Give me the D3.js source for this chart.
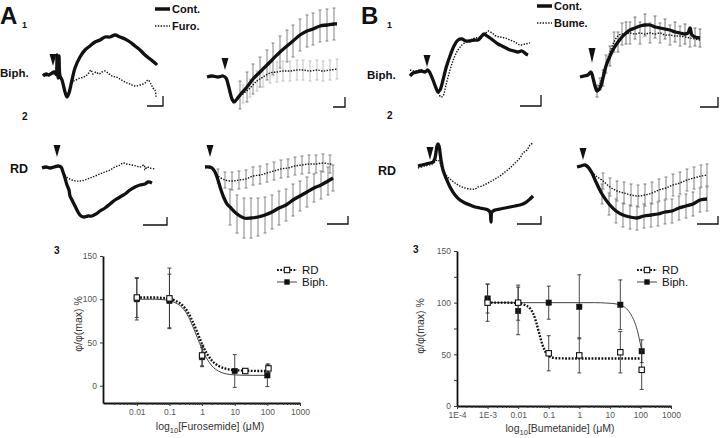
<!DOCTYPE html>
<html>
<head>
<meta charset="utf-8">
<script src="https://cdn.jsdelivr.net/npm/d3@7"></script>
<style>
body { margin: 0; background: #fff; }
svg { font-family: "Liberation Sans", Arial, sans-serif; }
</style>
</head>
<body>
<script>
// ---- traces: [time, amplitude, sem] (arbitrary units, baseline = 0) ----
var a1LeftCont = [[0,-1],[3,1],[6,0],[9,2],[11,3],[13,1],[14,20],[15,-3],[16,19],[17,-1],[19,-5],[22,-17],[24,-22],[26,-18],[29,-5],[32,7],[37,18],[42,25],[47,29],[52,33],[57,35],[62,38],[67,38],[72,40],[77,38],[82,36],[87,33],[92,29],[97,25],[102,20],[107,16],[112,12],[114,10]];
var a1LeftFuro = [[0,1],[4,-1],[8,2],[12,0],[18,-4],[22,-16],[24,-21],[27,-12],[29,-7],[33,-5],[37,-3],[41,-2],[45,1],[48,5],[50,1],[53,3],[56,1],[59,3],[62,4],[65,2],[69,-1],[73,-2],[77,-4],[82,-7],[87,-9],[92,-11],[97,-10],[102,-8],[105,-5],[108,-9],[110,-13],[112,-15],[113,-23]];
var a1RightCont = [[0,0],[5,1],[11,0],[16,1],[19,-1],[21,-7],[23,-15],[25,-22],[27,-25],[30,-22],[33,-18,14],[40,-10,15],[46,-2,15],[53,5,15],[60,12,15],[66,18,16],[73,25,16],[80,31,16],[86,36,16],[93,42,16],[100,46,16],[106,48,16],[113,51,16],[120,52,16],[127,53,16],[130,53]];
var a1RightFuro = [[27,-25],[30,-22],[36,-17,9],[43,-11,9],[50,-4,10],[56,0,10],[63,4,10],[70,5,10],[76,6,10],[83,6,10],[90,7,10],[96,7,10],[103,6,10],[110,7,10],[116,6,10],[123,7,10],[130,8,10]];

var b1LeftCont = [[0,-3],[3,0],[7,1],[11,2],[15,1],[18,3],[20,0],[23,-7],[26,-15],[28,-19],[30,-17],[33,-7],[36,5],[40,17],[44,27],[48,33],[52,34],[56,32],[60,32],[64,33],[68,33],[71,36],[74,39],[77,37],[80,35],[84,32],[88,29],[92,27],[96,25],[100,23],[104,22],[108,21],[112,22],[116,19],[118,18]];
var b1LeftBume = [[0,3],[5,2],[10,3],[15,2],[20,0],[24,-9],[28,-19],[31,-24],[33,-23],[36,-12],[40,3],[44,15],[48,23],[52,28],[56,31],[60,33],[65,35],[70,36],[75,39],[78,42],[82,40],[86,37],[90,36],[95,35],[100,33],[105,31],[110,28],[115,29],[120,30]];
var b1RightCont = [[0,-1],[4,0],[8,1],[11,4],[13,-2],[15,-10],[17,-15,6],[20,-12],[23,-2,8],[26,10],[30,20,10],[34,28],[38,34,10],[42,39],[46,43,11],[50,46],[55,48,11],[60,50],[65,51,11],[70,51],[75,49,11],[80,48],[85,47,10],[90,46],[95,44,10],[100,43],[105,42,10],[108,43],[110,48],[112,41],[115,39,9],[120,38,9]];
var b1RightBume = [[13,-4],[17,-12],[20,-8,6],[23,2],[26,12,9],[30,24],[34,34,10],[38,40],[42,42,11],[46,42],[50,43,11],[55,42],[60,43,11],[65,42],[70,43,10],[75,42],[80,43,10],[85,41],[90,41,10],[95,40],[100,40,10],[110,38,9],[120,36]];

var a2LeftCont = [[0,0],[4,1],[8,0],[12,1],[16,2],[19,1],[21,-4],[23,-10],[25,-17],[27,-22],[28,-28],[30,-32],[33,-38],[36,-44],[39,-48],[42,-49],[46,-48],[50,-48],[54,-46],[58,-43],[63,-40],[68,-36],[73,-32],[78,-29],[83,-26],[88,-22],[93,-19],[98,-17],[103,-16],[106,-14],[110,-15]];
var a2LeftFuro = [[20,-2],[23,-7],[26,-10],[30,-12],[34,-13],[38,-13],[43,-12],[48,-10],[53,-8],[58,-6],[63,-4],[68,-2],[73,1],[78,3],[81,5],[85,4],[90,3],[94,2],[98,1],[102,3],[103,-2],[105,1],[108,0],[113,-1]];
var a2RightCont = [[0,0],[4,0],[7,-1],[10,-5],[13,-13],[16,-23],[19,-31],[22,-37],[25,-40,18],[32,-47,19],[39,-51,20],[46,-51,20],[53,-50,19],[60,-48,18],[67,-45,17],[74,-41,17],[81,-38,16],[88,-33,16],[95,-29,15],[102,-25,15],[109,-21,14],[116,-18,14],[123,-14,14],[128,-11,13]];
var a2RightFuro = [[10,-5],[13,-9,7],[20,-13,8],[27,-14,9],[34,-13,9],[41,-12,9],[48,-9,9],[55,-8,9],[62,-6,9],[69,-4,9],[76,-2,9],[83,-1,9],[90,1,9],[97,2,9],[104,3,9],[111,3,9],[118,4,9],[125,3,9],[128,3]];

var b2LeftCont = [[0,-1],[4,0],[8,1],[12,2],[15,3],[17,7],[19,19],[20,21],[21,19],[23,5],[25,-5],[28,-13],[32,-22],[37,-30],[42,-35],[47,-38],[52,-40],[57,-42],[62,-43],[67,-44],[70,-45],[72,-47],[73,-57],[74,-47],[77,-45],[82,-44],[87,-43],[92,-42],[97,-41],[102,-40],[107,-38],[112,-34],[115,-31]];
var b2LeftBume = [[0,-3],[7,-1],[14,1],[20,5],[24,-3],[28,-10],[32,-14],[37,-18],[42,-21],[47,-23],[52,-24],[57,-24],[60,-22],[64,-21],[68,-19],[72,-17],[77,-14],[82,-11],[87,-7],[92,-3],[97,2],[102,7],[105,12],[109,15],[112,20],[115,22]];
var b2RightCont = [[0,0],[4,1],[8,2],[11,0],[15,-6],[19,-15],[25,-27,10],[32,-37,11],[39,-44,12],[46,-48,12],[53,-50,12],[60,-51,12],[67,-49,12],[74,-48,12],[81,-47,12],[88,-45,12],[95,-44,12],[102,-41,12],[109,-39,12],[116,-37,12],[123,-33,12],[130,-32,12]];
var b2RightBume = [[15,-5],[19,-9],[26,-14,8],[33,-20,9],[40,-24,10],[47,-26,11],[54,-28,11],[61,-29,11],[68,-28,11],[75,-26,11],[82,-23,11],[89,-21,11],[96,-18,11],[103,-16,11],[110,-13,11],[117,-11,11],[124,-9,11],[130,-8,11]];

// ---- dose-response (% of max) ----
var furoConc = [0.01, 0.1, 1, 10, 100];
var furoBiph = [100, 98, 33, 17, 12];
var furoBiphSem = [24, 31, 11, 19, 13];
var furoRDConc = [0.01, 0.1, 1, 21, 108];
var furoRD = [102, 101, 35, 17, 20];
var furoRDSem = [23, 35, 12, 2, 5];
var furoCurveLogX = [-2, -1.5, -1.2, -1, -0.8, -0.6, -0.45, -0.3, -0.15, 0, 0.15, 0.3, 0.5, 0.7, 1, 1.5, 2.03];
var furoCurveRD = [102, 102, 101.5, 100.5, 98, 93, 86, 75, 62, 48, 37, 29, 23, 20, 18, 17.2, 17];
var furoCurveBiph = [100, 100, 99.5, 98.5, 95.5, 90, 82, 70, 56, 42, 31, 23, 17, 14, 12.5, 12, 12];

var bumeConc = [0.001, 0.01, 0.1, 1, 22, 110];
var bumeBiph = [104, 92, 100, 96, 98, 53];
var bumeBiphSem = [14, 23, 16, 31, 24, 11];
var bumeRD = [100, 100, 51, 49, 52, 35];
var bumeRDSem = [18, 17, 17, 17, 20, 19];
var bumeCurveLogX = [-3, -2.4, -2, -1.8, -1.6, -1.5, -1.4, -1.3, -1.2, -1.1, -1, -0.9, -0.7, -0.3, 1, 2.04];
var bumeCurveRD = [100, 100, 99.5, 98, 94, 89, 80, 69, 59, 52, 48.5, 47, 46.2, 46, 46, 46];
var bumeCurveBiphLogX = [-3, 0, 0.5, 0.9, 1.2, 1.4, 1.55, 1.7, 1.8, 1.9, 1.97, 2.04];
var bumeCurveBiph = [100, 100, 100, 99.6, 98.8, 97, 94, 88, 82, 73, 64, 54];

var svg = d3.select("body").append("svg")
    .attr("width", 720)
    .attr("height", 438);

var ink = "#111";

// panel layout for the traces
var panels = [
    {x0: 43, base: 75, cont: a1LeftCont, drug: a1LeftFuro, stim: [10, 9, 12], bar: [120, -31, 16, 10]},
    {x0: 207, base: 77, cont: a1RightCont, drug: a1RightFuro, stim: [18, 7, 12], bar: [138, -30, 12, 10], errCont: "#777", errDrug: "#bbb"},
    {x0: 410, base: 73, cont: b1LeftCont, drug: b1LeftBume, stim: [17, 6, 12], bar: [131, -33, 21, 11]},
    {x0: 580, base: 76, cont: b1RightCont, drug: b1RightBume, stim: [12, 13, 15], bar: [138, -31, 18, 10], errCont: "#666", errDrug: "#777"},
    {x0: 42, base: 168, cont: a2LeftCont, drug: a2LeftFuro, stim: [15, 11, 12], bar: [125, -57, 24, 8]},
    {x0: 205, base: 167, cont: a2RightCont, drug: a2RightFuro, stim: [5, 10, 12], bar: [143, -57, 21, 8], errCont: "#777", errDrug: "#777"},
    {x0: 418, base: 165, cont: b2LeftCont, drug: b2LeftBume, stim: [12, 5, 13], bar: [123, -59, 24, 8]},
    {x0: 577, base: 167, cont: b2RightCont, drug: b2RightBume, stim: [6, 7, 12], bar: [141, -57, 21, 8], errCont: "#777", errDrug: "#777"}
];

function errBars(g, x, y, data, color) {
    var pts = data.filter(function(d) { return d[2] != null; });
    var eb = g.append("g").attr("stroke", color).attr("stroke-width", 0.9);
    pts.forEach(function(d) {
        var cx = x(d[0]);
        eb.append("line").attr("x1", cx).attr("x2", cx)
            .attr("y1", y(d[1] - d[2])).attr("y2", y(d[1] + d[2]));
        [d[1] - d[2], d[1] + d[2]].forEach(function(v) {
            eb.append("line").attr("x1", cx - 1.5).attr("x2", cx + 1.5)
                .attr("y1", y(v)).attr("y2", y(v));
        });
    });
}

panels.forEach(function(p) {
    var x = d3.scaleLinear().domain([0, 150]).range([p.x0, p.x0 + 150]);
    var y = d3.scaleLinear().domain([-70, 70]).range([p.base + 70, p.base - 70]);
    var g = svg.append("g");
    var line = d3.line()
        .x(function(d) { return x(d[0]); })
        .y(function(d) { return y(d[1]); })
        .curve(d3.curveCatmullRom.alpha(0.5));

    if (p.errDrug) errBars(g, x, y, p.drug, p.errDrug);
    if (p.errCont) errBars(g, x, y, p.cont, p.errCont);

    g.append("path").datum(p.drug).attr("d", line)
        .attr("fill", "none").attr("stroke", ink)
        .attr("stroke-width", 1.4).attr("stroke-dasharray", "1.4,1.4");
    g.append("path").datum(p.cont).attr("d", line)
        .attr("fill", "none").attr("stroke", ink)
        .attr("stroke-width", 3.3).attr("stroke-linejoin", "round");

    // stimulus arrowhead
    var sx = x(p.stim[0]), sy = y(p.stim[1]);
    g.append("path")
        .attr("d", "M" + (sx - 3.5) + "," + (sy - p.stim[2]) + "L" + (sx + 3.5) + "," + (sy - p.stim[2]) + "L" + sx + "," + sy + "Z")
        .attr("fill", ink);

    // scale bar
    var bx = x(p.bar[0]), by = y(p.bar[1]);
    g.append("path")
        .attr("d", "M" + (bx - p.bar[2]) + "," + by + "H" + bx + "V" + (by - p.bar[3]))
        .attr("fill", "none").attr("stroke", ink).attr("stroke-width", 1.3);
});

// panel text
function txt(x, y, s, size, weight, anchor) {
    return svg.append("text").attr("x", x).attr("y", y).text(s)
        .attr("font-size", size).attr("font-weight", weight || "normal")
        .attr("text-anchor", anchor || "start").attr("fill", ink);
}
txt(0, 24, "A", 24, "bold");
txt(22, 28, "1", 9, "bold");
txt(361, 24, "B", 24, "bold");
txt(387, 28, "1", 9, "bold");
txt(0, 77, "Biph.", 11.5, "bold");
txt(367, 79, "Biph.", 11.5, "bold");
txt(22, 120, "2", 10, "bold");
txt(387, 119, "2", 10, "bold");
txt(10, 173, "RD", 12.5, "bold");
txt(378, 175, "RD", 12.5, "bold");
txt(54, 254, "3", 10, "bold");
txt(413, 253, "3", 10, "bold");

// trace legends
[[155, 9, 13, "Cont.", false], [155, 26, 30, "Furo.", true],
 [537, 6, 10, "Cont.", false], [537, 23, 27, "Bume.", true]].forEach(function(l) {
    svg.append("line").attr("x1", l[0]).attr("x2", l[0] + 15).attr("y1", l[1]).attr("y2", l[1])
        .attr("stroke", ink).attr("stroke-width", l[4] ? 1.3 : 3.5)
        .attr("stroke-dasharray", l[4] ? "1.4,1.4" : null);
    txt(l[0] + 17, l[2], l[3], 11, "bold");
});

// ---- dose-response charts ----
function doseChart(o) {
    var x = d3.scaleLog().domain(o.xDomain).range(o.xRange);
    var y = d3.scaleLinear().domain(o.yDomain).range(o.yRange);
    var g = svg.append("g");
    var y0 = o.yRange[0];

    var yAxis = d3.axisLeft(y).tickValues(o.yTicks).tickSize(3).tickSizeOuter(0)
        .tickFormat(function(d) { return o.yLabels.indexOf(d) >= 0 ? d : ""; });
    var ya = g.append("g").attr("transform", "translate(" + o.xRange[0] + ",0)").call(yAxis);

    var minor = [];
    var lo = Math.floor(Math.log10(o.xDomain[0])), hi = Math.ceil(Math.log10(o.xDomain[1]));
    for (var k = lo; k < hi; k++) {
        for (var m = 2; m < 10; m++) {
            var v = m * Math.pow(10, k);
            if (v > o.xDomain[0] && v < o.xDomain[1]) minor.push(v);
        }
    }
    var xAxis = d3.axisBottom(x).tickValues(o.xTicks).tickSize(3).tickSizeOuter(0)
        .tickFormat(function(d, i) { return o.xLabels[i]; });
    var xa = g.append("g").attr("transform", "translate(0," + y0 + ")").call(xAxis);
    g.append("g").attr("transform", "translate(0," + y0 + ")")
        .call(d3.axisBottom(x).tickValues(minor).tickSize(2).tickSizeOuter(0).tickFormat(""))
        .select(".domain").remove();

    [ya, xa].forEach(function(a) {
        a.select(".domain").attr("stroke", ink).attr("stroke-width", 1.8);
        a.selectAll(".tick text").attr("fill", "#555").attr("font-size", 8.5)
            .attr("font-family", "Liberation Sans, Arial, sans-serif");
    });
    g.selectAll(".tick line").attr("stroke", "#333");

    // fitted curves
    var curve = d3.line()
        .x(function(d) { return x(Math.pow(10, d[0])); })
        .y(function(d) { return y(d[1]); })
        .curve(d3.curveMonotoneX);
    g.append("path").datum(d3.zip(o.biphCurveX, o.biphCurve)).attr("d", curve)
        .attr("fill", "none").attr("stroke", "#444").attr("stroke-width", 1);
    g.append("path").datum(d3.zip(o.rdCurveX, o.rdCurve)).attr("d", curve)
        .attr("fill", "none").attr("stroke", ink).attr("stroke-width", 2.4)
        .attr("stroke-dasharray", "1.8,1.5");

    function points(conc, vals, sem, open) {
        var eb = g.append("g").attr("stroke", "#333").attr("stroke-width", 0.9);
        conc.forEach(function(c, i) {
            var cx = x(c);
            eb.append("line").attr("x1", cx).attr("x2", cx)
                .attr("y1", y(vals[i] - sem[i])).attr("y2", y(vals[i] + sem[i]));
            [vals[i] - sem[i], vals[i] + sem[i]].forEach(function(v) {
                eb.append("line").attr("x1", cx - 2).attr("x2", cx + 2).attr("y1", y(v)).attr("y2", y(v));
            });
        });
        g.selectAll(null).data(conc).enter().append("rect")
            .attr("x", function(c) { return x(c) - 2.7; })
            .attr("y", function(c, i) { return y(vals[i]) - 2.7; })
            .attr("width", 5.4).attr("height", 5.4)
            .attr("fill", open ? "#fff" : ink)
            .attr("stroke", ink).attr("stroke-width", open ? 1.1 : 0.5);
    }
    points(o.biphConc, o.biph, o.biphSem, false);
    points(o.rdConc, o.rd, o.rdSem, true);

    // legend
    var lx = o.legendX;
    g.append("line").attr("x1", lx).attr("x2", lx + 20).attr("y1", 270).attr("y2", 270)
        .attr("stroke", ink).attr("stroke-width", 2.2).attr("stroke-dasharray", "1.8,1.5");
    g.append("rect").attr("x", lx + 7.3).attr("y", 267.3).attr("width", 5.4).attr("height", 5.4)
        .attr("fill", "#fff").attr("stroke", ink).attr("stroke-width", 1.1);
    g.append("line").attr("x1", lx).attr("x2", lx + 20).attr("y1", 282).attr("y2", 282)
        .attr("stroke", "#444").attr("stroke-width", 1);
    g.append("rect").attr("x", lx + 7.3).attr("y", 279.3).attr("width", 5.4).attr("height", 5.4)
        .attr("fill", ink);
    g.append("text").attr("x", lx + 25).attr("y", 274).text("RD")
        .attr("font-size", 11.5).attr("fill", ink);
    g.append("text").attr("x", lx + 25).attr("y", 286).text("Biph.")
        .attr("font-size", 11.5).attr("fill", ink);

    // axis titles
    g.append("text")
        .attr("transform", "translate(" + o.yTitleX + "," + o.yTitleY + ") rotate(-90)")
        .attr("text-anchor", "middle").attr("font-size", 10.5).attr("fill", "#333")
        .text("φ/φ(max) %");
    var xt = g.append("text").attr("x", o.xTitleX).attr("y", o.xTitleY)
        .attr("text-anchor", "middle").attr("font-size", 10.5).attr("fill", "#333");
    xt.append("tspan").text("log");
    xt.append("tspan").attr("font-size", 7.5).attr("dy", 2.5).text("10");
    xt.append("tspan").attr("dy", -2.5).text("[" + o.drug + "] (μM)");
}

doseChart({
    xDomain: [0.00092, 1000], xRange: [103, 300],
    yDomain: [-20, 150], yRange: [403, 256],
    yTicks: [0, 50, 100, 150], yLabels: [0, 50, 100, 150],
    xTicks: [0.01, 0.1, 1, 10, 100, 1000],
    xLabels: ["0.01", "0.1", "1", "10", "100", "1000"],
    biphConc: furoConc, biph: furoBiph, biphSem: furoBiphSem,
    rdConc: furoRDConc, rd: furoRD, rdSem: furoRDSem,
    rdCurveX: furoCurveLogX, rdCurve: furoCurveRD,
    biphCurveX: furoCurveLogX, biphCurve: furoCurveBiph,
    legendX: 277, yTitleX: 82, yTitleY: 324, xTitleX: 210, xTitleY: 430,
    drug: "Furosemide"
});

doseChart({
    xDomain: [0.0001, 1000], xRange: [457, 671],
    yDomain: [0, 150], yRange: [406, 251],
    yTicks: [0, 25, 50, 75, 100, 125, 150], yLabels: [0, 50, 100, 150],
    xTicks: [0.0001, 0.001, 0.01, 0.1, 1, 10, 100, 1000],
    xLabels: ["1E-4", "1E-3", "0.01", "0.1", "1", "10", "100", "1000"],
    biphConc: bumeConc, biph: bumeBiph, biphSem: bumeBiphSem,
    rdConc: bumeConc, rd: bumeRD, rdSem: bumeRDSem,
    rdCurveX: bumeCurveLogX, rdCurve: bumeCurveRD,
    biphCurveX: bumeCurveBiphLogX, biphCurve: bumeCurveBiph,
    legendX: 637, yTitleX: 424, yTitleY: 326, xTitleX: 560, xTitleY: 432,
    drug: "Bumetanide"
});
</script>
</body>
</html>
